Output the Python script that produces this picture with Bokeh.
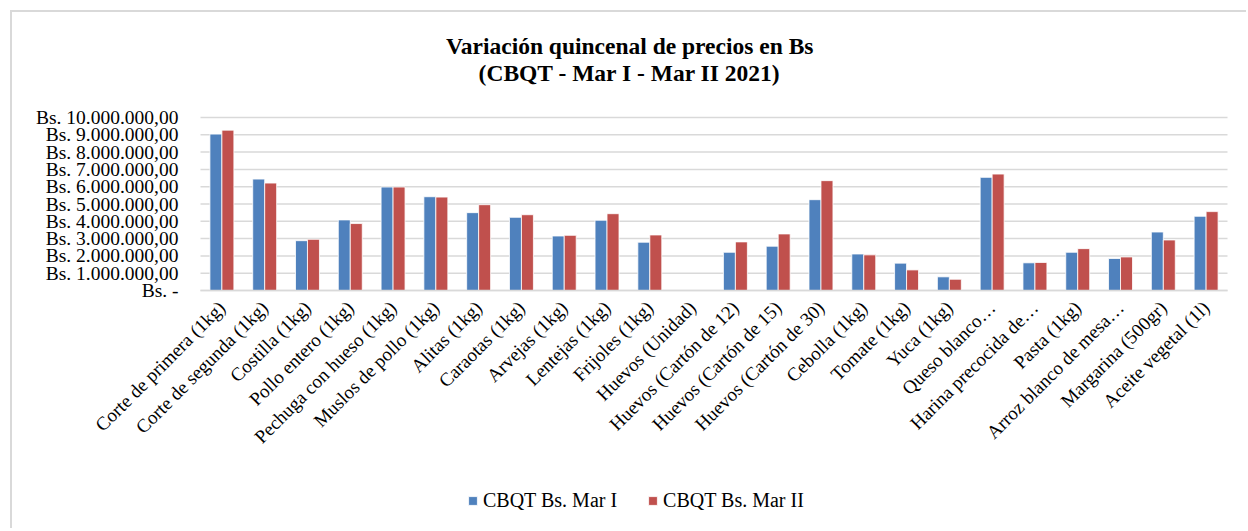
from bokeh.plotting import figure
from bokeh.models import (ColumnDataSource, FixedTicker, Legend, LegendItem, Label, Range1d)
from bokeh.transform import dodge
from bokeh.embed import file_html
from bokeh.resources import INLINE

categories = [
    "Corte de primera (1kg)", "Corte de segunda (1kg)", "Costilla (1kg)",
    "Pollo entero (1kg)", "Pechuga con hueso (1kg)", "Muslos de pollo (1kg)",
    "Alitas (1kg)", "Caraotas (1kg)", "Arvejas (1kg)", "Lentejas (1kg)",
    "Frijoles (1kg)", "Huevos (Unidad)", "Huevos (Cartón de 12)",
    "Huevos (Cartón de 15)", "Huevos (Cartón de 30)", "Cebolla (1kg)",
    "Tomate (1kg)", "Yuca (1kg)", "Queso blanco…", "Harina precocida de…",
    "Pasta (1kg)", "Arroz blanco de mesa…", "Margarina (500gr)", "Aceite vegetal (1l)",
]
mar_i = [9040000, 6440000, 2880000, 4080000, 5980000, 5420000, 4500000, 4230000,
         3150000, 4060000, 2790000, 0, 2210000, 2560000, 5250000, 2110000,
         1580000, 790000, 6540000, 1600000, 2210000, 1850000, 3380000, 4290000]
mar_ii = [9270000, 6210000, 2960000, 3870000, 5980000, 5400000, 4960000, 4380000,
          3190000, 4440000, 3210000, 0, 2810000, 3270000, 6350000, 2060000,
          1190000, 650000, 6730000, 1620000, 2420000, 1940000, 2920000, 4560000]
y_ticks = [0, 1000000, 2000000, 3000000, 4000000, 5000000, 6000000, 7000000,
           8000000, 9000000, 10000000]
y_tick_labels = ["Bs. -", "Bs. 1.000.000,00", "Bs. 2.000.000,00", "Bs. 3.000.000,00",
                 "Bs. 4.000.000,00", "Bs. 5.000.000,00", "Bs. 6.000.000,00",
                 "Bs. 7.000.000,00", "Bs. 8.000.000,00", "Bs. 9.000.000,00",
                 "Bs. 10.000.000,00"]
series_names = ["CBQT Bs. Mar I", "CBQT Bs. Mar II"]
colors = ["#4F81BD", "#C0504D"]
title_lines = ["Variación quincenal de precios en Bs", "(CBQT - Mar I - Mar II 2021)"]

FONT = "Liberation Serif"

# ---- layout geometry (pixels, canvas coordinates) ----
W, H = 1236, 518
PLOT_LEFT_PX = 188          # left edge of the category area
PLOT_W_PX = 1027            # width of the category area
FRAME_TOP_PX = 105          # 10M gridline
BASE_PX = 278               # zero line
n = len(categories)
idx = list(range(n))
U = PLOT_W_PX / n
x_start = -0.5 - PLOT_LEFT_PX / U
x_end = n - 0.5 + (W - PLOT_LEFT_PX - PLOT_W_PX) / U
ymax = y_ticks[-1]
per_px = ymax / (BASE_PX - FRAME_TOP_PX)
y_start = -(H - BASE_PX) * per_px
y_end = ymax + FRAME_TOP_PX * per_px

src = ColumnDataSource(dict(idx=idx, cat=categories, mar_i=mar_i, mar_ii=mar_ii))
grid_src = ColumnDataSource(dict(y=y_ticks, x0=[-0.5] * len(y_ticks),
                                 x1=[n - 0.5] * len(y_ticks)))

p = figure(x_range=Range1d(x_start, x_end), y_range=Range1d(y_start, y_end),
           width=W, height=H, output_backend="svg", toolbar_location=None,
           min_border_left=0, min_border_right=0, min_border_top=0, min_border_bottom=0)
p.styles = {"margin-left": "10px", "margin-top": "10px",
            "border-left": "2px solid #d9d9d9", "border-top": "2px solid #d9d9d9"}
p.outline_line_color = None
p.background_fill_color = "white"
p.border_fill_color = "white"
p.xgrid.visible = False
p.ygrid.visible = False

# horizontal gridlines over the category area
p.segment(x0="x0", y0="y", x1="x1", y1="y", source=grid_src,
          line_color="#d9d9d9", line_width=1.5)

bw = 0.28
r1 = p.vbar(x=dodge("idx", -bw / 2), top="mar_i", width=bw, source=src,
            fill_color=colors[0], line_color="white", line_width=0.8)
r2 = p.vbar(x=dodge("idx", bw / 2), top="mar_ii", width=bw, source=src,
            fill_color=colors[1], line_color="white", line_width=0.8)

# y axis at the left edge of the category area
p.yaxis.fixed_location = -0.5
p.yaxis.ticker = FixedTicker(ticks=y_ticks)
p.yaxis.major_label_overrides = {t: l for t, l in zip(y_ticks, y_tick_labels)}
p.yaxis.axis_line_color = None
p.yaxis.major_tick_line_color = None
p.yaxis.minor_tick_line_color = None
p.yaxis.major_label_standoff = 16
p.yaxis.major_label_text_font = FONT
p.yaxis.major_label_text_font_size = "19.5px"
p.yaxis.major_label_text_color = "#000000"

# x axis at value 0
p.xaxis.fixed_location = 0
p.xaxis.bounds = (-0.5, n - 0.5)
p.xaxis.ticker = FixedTicker(ticks=idx)
p.xaxis.major_label_overrides = {i: c for i, c in zip(idx, categories)}
p.xaxis.axis_line_color = "#d9d9d9"
p.xaxis.axis_line_width = 1.5
p.xaxis.major_tick_line_color = None
p.xaxis.minor_tick_line_color = None
p.xaxis.major_label_orientation = 0.785398
p.xaxis.major_label_standoff = 8
p.xaxis.major_label_text_font = FONT
p.xaxis.major_label_text_font_size = "19px"
p.xaxis.major_label_text_color = "#000000"

# title
for txt, yv in zip(title_lines, [14140000, 12580000]):
    p.add_layout(Label(x=9.53, y=yv, text=txt, text_align="center", text_baseline="middle",
                       text_font=FONT, text_font_style="bold",
                       text_font_size="23.5px", text_color="#000000"))

legend = Legend(items=[LegendItem(label=series_names[0], renderers=[r1]),
                       LegendItem(label=series_names[1], renderers=[r2])],
                location=(455, 18), orientation="horizontal",
                glyph_width=11, glyph_height=11, label_standoff=5, spacing=30,
                padding=0, margin=0, border_line_color=None, background_fill_alpha=0,
                label_text_font=FONT, label_text_font_size="20px",
                label_text_color="#000000")
p.add_layout(legend)

open("out.html", "w").write(file_html(p, INLINE))
